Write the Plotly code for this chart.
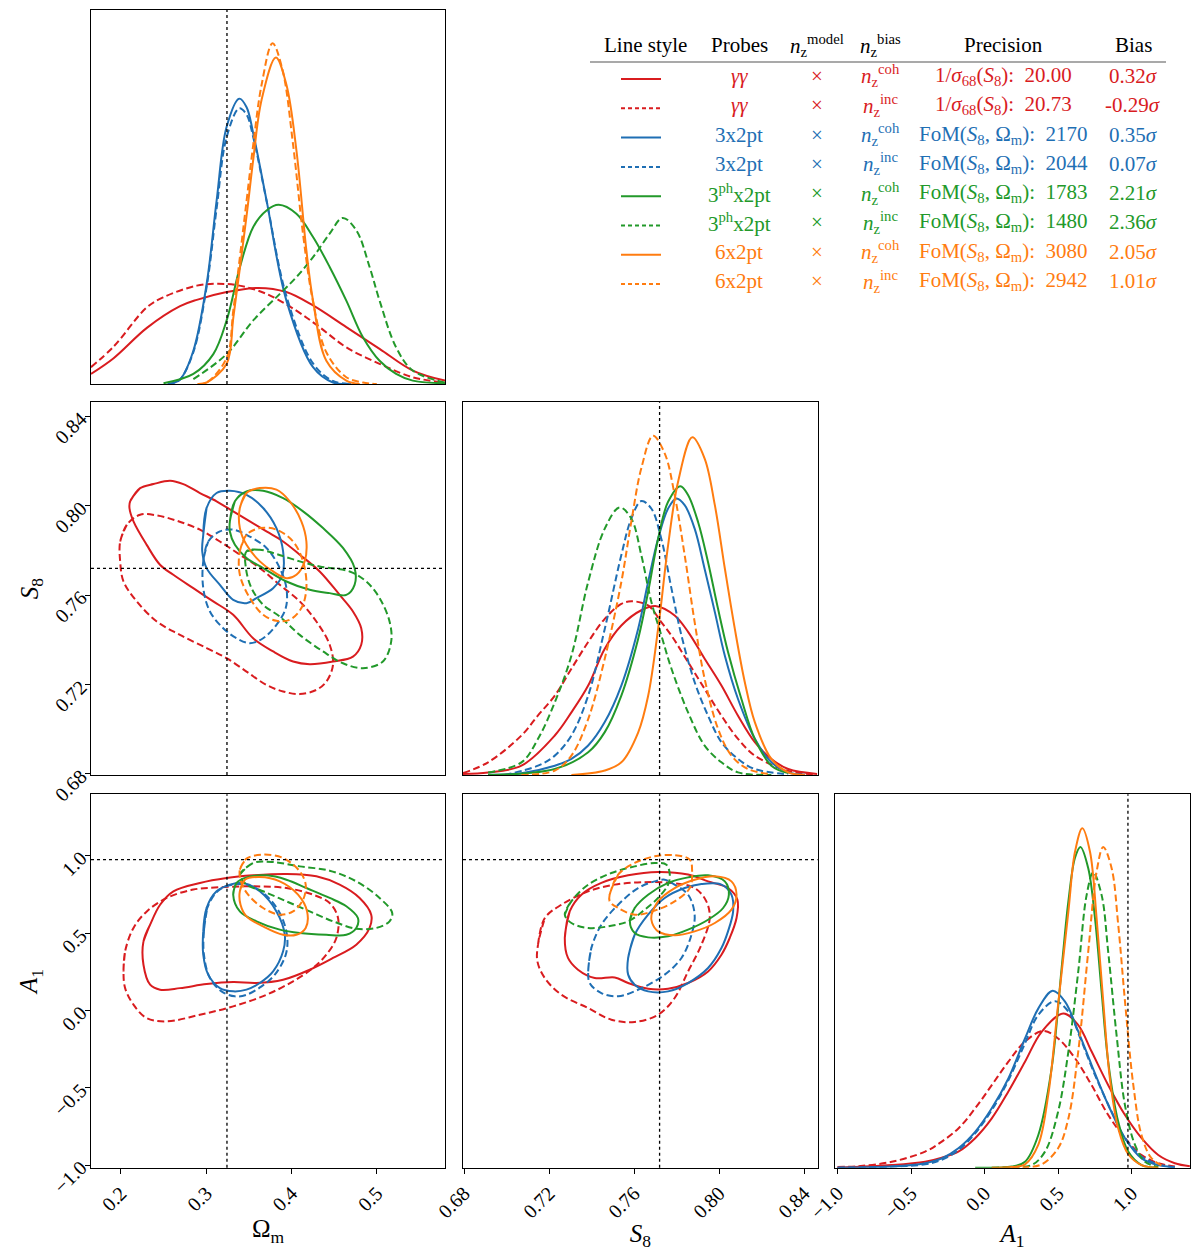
import plotly.graph_objects as go

# ---- true parameter values (dotted lines)
OM_TRUE = 0.3244
S8_TRUE = 0.772
A1_TRUE = 0.975

SERIES = ["gg_coh", "gg_inc", "3x2_coh", "3x2_inc", "3ph_coh", "3ph_inc", "6x2_coh", "6x2_inc"]

# ---- 1D marginal of Omega_m (x, normalised density)
om_pdf = {
    "gg_coh": ([0.165, 0.1915, 0.2305, 0.2694, 0.289, 0.324, 0.361, 0.394, 0.4253, 0.4643, 0.5033, 0.5422, 0.58],
               [0.027, 0.069, 0.150, 0.208, 0.225, 0.246, 0.257, 0.246, 0.210, 0.152, 0.094, 0.036, 0.009]),
    "gg_inc": ([0.165, 0.1915, 0.2305, 0.250, 0.289, 0.314, 0.339, 0.3708, 0.4058, 0.433, 0.4643, 0.5033, 0.5422, 0.58],
               [0.045, 0.100, 0.205, 0.232, 0.263, 0.268, 0.263, 0.241, 0.196, 0.152, 0.098, 0.054, 0.018, 0.004]),
    "3x2_coh": ([0.255, 0.2617, 0.2694, 0.285, 0.3006, 0.3123, 0.324, 0.3388, 0.3474, 0.3552, 0.3708, 0.3941, 0.4253, 0.4487, 0.47],
                [0.0, 0.003, 0.012, 0.089, 0.268, 0.491, 0.688, 0.763, 0.740, 0.670, 0.491, 0.223, 0.045, 0.004, 0.0]),
    "3x2_inc": ([0.255, 0.2617, 0.2694, 0.285, 0.3006, 0.3123, 0.324, 0.3388, 0.3474, 0.3552, 0.3708, 0.3941, 0.4253, 0.4487, 0.47],
                [0.0, 0.003, 0.012, 0.085, 0.260, 0.470, 0.660, 0.737, 0.720, 0.660, 0.490, 0.235, 0.055, 0.008, 0.0]),
    "3ph_coh": ([0.250, 0.285, 0.3084, 0.324, 0.3396, 0.3552, 0.3708, 0.385, 0.4058, 0.4253, 0.4448, 0.4643, 0.4838, 0.5033, 0.5227, 0.5422, 0.58],
                [0.002, 0.027, 0.080, 0.170, 0.313, 0.420, 0.464, 0.479, 0.455, 0.393, 0.313, 0.223, 0.125, 0.062, 0.027, 0.009, 0.002]),
    "3ph_inc": ([0.285, 0.324, 0.3552, 0.3864, 0.4058, 0.4253, 0.4448, 0.460, 0.476, 0.4916, 0.5033, 0.5227, 0.5422, 0.58],
                [0.013, 0.080, 0.170, 0.241, 0.286, 0.339, 0.402, 0.444, 0.411, 0.313, 0.223, 0.098, 0.036, 0.004]),
    "6x2_coh": ([0.29, 0.3006, 0.324, 0.332, 0.3474, 0.3552, 0.365, 0.3817, 0.3941, 0.4058, 0.4175, 0.4253, 0.4409, 0.4643, 0.48],
                [0.0, 0.004, 0.054, 0.180, 0.450, 0.600, 0.760, 0.873, 0.800, 0.625, 0.357, 0.223, 0.062, 0.009, 0.0]),
    "6x2_inc": ([0.29, 0.3006, 0.324, 0.332, 0.3474, 0.3552, 0.365, 0.3778, 0.3895, 0.4019, 0.4136, 0.4253, 0.4409, 0.4643, 0.4838, 0.50],
                [0.0, 0.004, 0.070, 0.200, 0.490, 0.640, 0.800, 0.911, 0.840, 0.640, 0.400, 0.220, 0.085, 0.018, 0.004, 0.0]),
}

# ---- 1D marginal of S8
s8_pdf = {
    "gg_coh": ([0.6795, 0.6913, 0.7070, 0.7227, 0.7305, 0.7384, 0.7462, 0.7540, 0.7634, 0.7705, 0.7791, 0.7854, 0.7932, 0.8011, 0.8089, 0.8168, 0.8246, 0.8325, 0.8461],
               [0.003, 0.007, 0.025, 0.106, 0.168, 0.240, 0.339, 0.401, 0.442, 0.453, 0.428, 0.384, 0.312, 0.240, 0.159, 0.088, 0.043, 0.016, 0.003]),
    "gg_inc": ([0.6795, 0.6913, 0.7070, 0.7148, 0.7227, 0.7305, 0.7384, 0.7462, 0.7540, 0.7587, 0.7666, 0.7728, 0.7776, 0.7854, 0.7932, 0.8011, 0.8089, 0.8168, 0.8325, 0.8461],
               [0.005, 0.034, 0.106, 0.160, 0.213, 0.285, 0.357, 0.419, 0.459, 0.466, 0.455, 0.410, 0.374, 0.303, 0.231, 0.159, 0.097, 0.052, 0.011, 0.002]),
    "3x2_coh": ([0.6913, 0.7070, 0.7227, 0.7305, 0.7384, 0.7462, 0.7540, 0.7619, 0.7666, 0.7713, 0.7760, 0.7799, 0.7838, 0.7885, 0.7932, 0.7980, 0.8027, 0.8089, 0.8168, 0.8246, 0.8325, 0.8403],
                [0.001, 0.005, 0.025, 0.043, 0.079, 0.142, 0.240, 0.392, 0.518, 0.634, 0.715, 0.742, 0.724, 0.661, 0.553, 0.437, 0.320, 0.204, 0.097, 0.034, 0.007, 0.001]),
    "3ph_coh": ([0.6913, 0.7227, 0.7384, 0.7462, 0.7540, 0.7619, 0.7666, 0.7713, 0.7760, 0.7818, 0.7854, 0.7901, 0.7948, 0.7995, 0.8042, 0.8105, 0.8168, 0.8246, 0.8325],
                [0.0, 0.016, 0.061, 0.115, 0.213, 0.365, 0.491, 0.634, 0.733, 0.775, 0.751, 0.679, 0.571, 0.446, 0.330, 0.204, 0.097, 0.025, 0.005]),
    "6x2_coh": ([0.7305, 0.7462, 0.7540, 0.7619, 0.7666, 0.7713, 0.7760, 0.7807, 0.7874, 0.7932, 0.7980, 0.8027, 0.8074, 0.8121, 0.8168, 0.8246, 0.8325, 0.8403],
                [0.0, 0.012, 0.034, 0.114, 0.212, 0.392, 0.616, 0.787, 0.906, 0.849, 0.724, 0.554, 0.392, 0.249, 0.142, 0.043, 0.007, 0.0]),
    "6x2_inc": ([0.7070, 0.7227, 0.7305, 0.7384, 0.7462, 0.7540, 0.7587, 0.7634, 0.7689, 0.7744, 0.7791, 0.7838, 0.7885, 0.7932, 0.7995, 0.8058, 0.8136, 0.8246],
                [0.0, 0.012, 0.052, 0.150, 0.312, 0.518, 0.680, 0.823, 0.910, 0.863, 0.751, 0.590, 0.410, 0.258, 0.124, 0.052, 0.016, 0.002]),
    "3x2_inc": ([0.6990, 0.7148, 0.7227, 0.7305, 0.7384, 0.7462, 0.7540, 0.7587, 0.7634, 0.7681, 0.7728, 0.7776, 0.7823, 0.7885, 0.7948, 0.8011, 0.8089, 0.8168, 0.8325],
                [0.0, 0.025, 0.052, 0.106, 0.213, 0.392, 0.590, 0.688, 0.735, 0.715, 0.634, 0.500, 0.374, 0.249, 0.159, 0.088, 0.043, 0.016, 0.002]),
    "3ph_inc": ([0.6913, 0.7070, 0.7148, 0.7227, 0.7305, 0.7384, 0.7462, 0.7532, 0.7587, 0.7634, 0.7681, 0.7728, 0.7776, 0.7854, 0.7932, 0.8011, 0.8089, 0.8246],
                [0.007, 0.034, 0.097, 0.195, 0.320, 0.518, 0.661, 0.718, 0.688, 0.590, 0.465, 0.375, 0.285, 0.168, 0.079, 0.034, 0.007, 0.0]),
}

# ---- 1D marginal of A1
a1_pdf = {
    "gg_coh": ([-1.0, -0.631, -0.404, -0.291, -0.178, -0.064, 0.049, 0.162, 0.275, 0.388, 0.535, 0.637, 0.728, 0.841, 0.955, 1.068, 1.181, 1.294, 1.396],
               [0.0, 0.007, 0.016, 0.027, 0.043, 0.079, 0.132, 0.204, 0.284, 0.364, 0.413, 0.382, 0.311, 0.221, 0.141, 0.079, 0.034, 0.012, 0.004]),
    "gg_inc": ([-1.0, -0.857, -0.631, -0.404, -0.291, -0.178, -0.064, 0.049, 0.162, 0.275, 0.399, 0.5, 0.615, 0.728, 0.841, 0.955, 1.068, 1.181, 1.294],
               [0.002, 0.004, 0.016, 0.043, 0.070, 0.105, 0.159, 0.221, 0.284, 0.338, 0.366, 0.346, 0.293, 0.221, 0.141, 0.079, 0.034, 0.012, 0.003]),
    "3x2_coh": ([-1.0, -0.631, -0.404, -0.291, -0.178, -0.064, 0.049, 0.162, 0.275, 0.365, 0.463, 0.547, 0.637, 0.728, 0.841, 0.955, 1.068, 1.181, 1.294],
                [0.0, 0.003, 0.012, 0.025, 0.052, 0.096, 0.159, 0.239, 0.346, 0.426, 0.474, 0.445, 0.365, 0.275, 0.168, 0.079, 0.025, 0.007, 0.001]),
    "3x2_inc": ([-1.0, -0.631, -0.404, -0.291, -0.178, -0.064, 0.049, 0.162, 0.275, 0.365, 0.479, 0.570, 0.660, 0.751, 0.864, 0.955, 1.068, 1.181, 1.294],
                [0.0, 0.003, 0.009, 0.021, 0.047, 0.092, 0.154, 0.234, 0.333, 0.409, 0.446, 0.418, 0.338, 0.248, 0.150, 0.079, 0.030, 0.009, 0.001]),
    "3ph_coh": ([-0.064, 0.185, 0.275, 0.365, 0.456, 0.524, 0.570, 0.615, 0.652, 0.705, 0.751, 0.796, 0.841, 0.909, 0.977, 1.068, 1.181],
                [0.0, 0.003, 0.016, 0.087, 0.266, 0.534, 0.713, 0.830, 0.859, 0.802, 0.668, 0.471, 0.283, 0.123, 0.043, 0.007, 0.0]),
    "3ph_inc": ([0.049, 0.185, 0.320, 0.411, 0.500, 0.570, 0.637, 0.694, 0.739, 0.796, 0.841, 0.898, 0.955, 1.023, 1.091, 1.181],
                [0.0, 0.002, 0.007, 0.043, 0.150, 0.311, 0.525, 0.730, 0.791, 0.730, 0.577, 0.354, 0.167, 0.061, 0.016, 0.002]),
    "6x2_coh": ([0.049, 0.185, 0.275, 0.365, 0.433, 0.5, 0.570, 0.615, 0.665, 0.717, 0.762, 0.807, 0.852, 0.909, 0.977, 1.068, 1.181],
                [0.0, 0.002, 0.009, 0.061, 0.195, 0.436, 0.686, 0.846, 0.909, 0.846, 0.668, 0.445, 0.240, 0.105, 0.036, 0.007, 0.0]),
    "6x2_inc": ([0.185, 0.275, 0.388, 0.5, 0.570, 0.637, 0.705, 0.762, 0.807, 0.864, 0.909, 0.955, 1.012, 1.068, 1.136, 1.226],
                [0.0, 0.001, 0.009, 0.052, 0.132, 0.311, 0.579, 0.793, 0.859, 0.802, 0.650, 0.445, 0.220, 0.086, 0.025, 0.002]),
}

# ---- 2D contours: S8 vs Omega_m  (Omega_m list, S8 list)
om_s8 = {
    "gg_coh": ([0.2109, 0.2226, 0.2382, 0.2577, 0.2732, 0.2927, 0.3122, 0.3317, 0.3512, 0.3707, 0.3902, 0.4097, 0.4331, 0.4565, 0.4721, 0.4818, 0.4818, 0.4721, 0.4487, 0.4214, 0.4019, 0.3785, 0.3551, 0.3317, 0.3083, 0.2849, 0.2615, 0.2459, 0.2303, 0.2148, 0.2101],
               [0.8020, 0.8079, 0.8097, 0.8112, 0.8097, 0.8057, 0.8020, 0.7975, 0.7930, 0.7885, 0.7840, 0.7781, 0.7706, 0.7601, 0.7527, 0.7452, 0.7378, 0.7325, 0.7303, 0.7291, 0.7303, 0.7348, 0.7407, 0.7512, 0.7572, 0.7631, 0.7691, 0.7736, 0.7825, 0.7930, 0.7990]),
    "gg_inc": ([0.1992, 0.2070, 0.2226, 0.2421, 0.2655, 0.2927, 0.3161, 0.3395, 0.3629, 0.3863, 0.4097, 0.4292, 0.4448, 0.4487, 0.4409, 0.4292, 0.4097, 0.3902, 0.3707, 0.3473, 0.3239, 0.3005, 0.2693, 0.2421, 0.2187, 0.2031, 0.1992],
               [0.7840, 0.7915, 0.7960, 0.7957, 0.7933, 0.7893, 0.7840, 0.7781, 0.7721, 0.7646, 0.7572, 0.7482, 0.7378, 0.7288, 0.7213, 0.7176, 0.7157, 0.7169, 0.7198, 0.7258, 0.7318, 0.7363, 0.7422, 0.7482, 0.7572, 0.7661, 0.7751]),
    "3x2_coh": ([0.2966, 0.3005, 0.3122, 0.3278, 0.3473, 0.3668, 0.3824, 0.3902, 0.3894, 0.3785, 0.3590, 0.3473, 0.3317, 0.3161, 0.3005, 0.2954],
                [0.7870, 0.7990, 0.8057, 0.8067, 0.8049, 0.7990, 0.7900, 0.7796, 0.7691, 0.7631, 0.7587, 0.7564, 0.7579, 0.7646, 0.7721, 0.7796]),
    "3x2_inc": ([0.2966, 0.3024, 0.3161, 0.3317, 0.3473, 0.3707, 0.3863, 0.3941, 0.3933, 0.3824, 0.3668, 0.3512, 0.3356, 0.3200, 0.3044, 0.2966],
                [0.7751, 0.7840, 0.7885, 0.7893, 0.7870, 0.7811, 0.7721, 0.7631, 0.7542, 0.7467, 0.7407, 0.7385, 0.7407, 0.7452, 0.7527, 0.7631]),
    "3ph_coh": ([0.3278, 0.3337, 0.3473, 0.3668, 0.3902, 0.4136, 0.4370, 0.4604, 0.4740, 0.4740, 0.4643, 0.4448, 0.4214, 0.3941, 0.3668, 0.3473, 0.3337, 0.3278],
                [0.7930, 0.8020, 0.8064, 0.8067, 0.8034, 0.7975, 0.7900, 0.7811, 0.7721, 0.7646, 0.7601, 0.7609, 0.7624, 0.7661, 0.7721, 0.7766, 0.7825, 0.7885]),
    "3ph_inc": ([0.3473, 0.3629, 0.3824, 0.4097, 0.4331, 0.4682, 0.4877, 0.5033, 0.5150, 0.5169, 0.5072, 0.4838, 0.4604, 0.4370, 0.4097, 0.3863, 0.3668, 0.3532, 0.3466],
                [0.7796, 0.7803, 0.7784, 0.7751, 0.7728, 0.7706, 0.7661, 0.7587, 0.7482, 0.7392, 0.7303, 0.7273, 0.7295, 0.7348, 0.7422, 0.7504, 0.7557, 0.7631, 0.7721]),
    "6x2_coh": ([0.3395, 0.3473, 0.3629, 0.3824, 0.3980, 0.4116, 0.4175, 0.4155, 0.4058, 0.3941, 0.3785, 0.3629, 0.3473, 0.3395],
                [0.7990, 0.8057, 0.8079, 0.8072, 0.8020, 0.7930, 0.7840, 0.7751, 0.7691, 0.7676, 0.7706, 0.7751, 0.7825, 0.7900]),
    "6x2_inc": ([0.3395, 0.3473, 0.3629, 0.3824, 0.4019, 0.4136, 0.4175, 0.4116, 0.3980, 0.3824, 0.3668, 0.3512, 0.3395],
                [0.7796, 0.7870, 0.7900, 0.7893, 0.7840, 0.7751, 0.7631, 0.7542, 0.7490, 0.7485, 0.7512, 0.7587, 0.7691]),
}

# ---- 2D contours: A1 vs Omega_m
om_a1 = {
    "gg_coh": ([0.2265, 0.2343, 0.2460, 0.2616, 0.2927, 0.3239, 0.3551, 0.3941, 0.4292, 0.4565, 0.4799, 0.4935, 0.4916, 0.4760, 0.4487, 0.4214, 0.3902, 0.3590, 0.3317, 0.3005, 0.2693, 0.2460, 0.2343, 0.2265],
               [0.446, 0.554, 0.683, 0.770, 0.824, 0.856, 0.873, 0.882, 0.867, 0.813, 0.727, 0.619, 0.533, 0.425, 0.339, 0.263, 0.198, 0.177, 0.183, 0.170, 0.144, 0.134, 0.166, 0.295]),
    "gg_inc": ([0.2031, 0.2050, 0.2148, 0.2304, 0.2538, 0.2849, 0.3161, 0.3551, 0.3941, 0.4253, 0.4448, 0.4546, 0.4526, 0.4409, 0.4253, 0.4019, 0.3707, 0.3317, 0.2927, 0.2538, 0.2304, 0.2148, 0.2050],
               [0.252, 0.382, 0.533, 0.640, 0.727, 0.781, 0.796, 0.802, 0.791, 0.748, 0.694, 0.597, 0.468, 0.360, 0.274, 0.188, 0.101, 0.026, -0.028, -0.071, -0.050, 0.037, 0.144]),
    "3x2_coh": ([0.2966, 0.3005, 0.3122, 0.3278, 0.3434, 0.3629, 0.3824, 0.3922, 0.3902, 0.3785, 0.3629, 0.3473, 0.3317, 0.3161, 0.3024, 0.2966],
                [0.511, 0.662, 0.770, 0.813, 0.824, 0.770, 0.640, 0.489, 0.382, 0.252, 0.177, 0.134, 0.123, 0.144, 0.231, 0.360]),
    "3x2_inc": ([0.2974, 0.3013, 0.3141, 0.3317, 0.3473, 0.3668, 0.3863, 0.3949, 0.3933, 0.3805, 0.3649, 0.3473, 0.3336, 0.3180, 0.3044, 0.2974],
                [0.511, 0.662, 0.774, 0.813, 0.813, 0.760, 0.630, 0.479, 0.360, 0.231, 0.155, 0.101, 0.091, 0.123, 0.209, 0.360]),
    "3ph_coh": ([0.3317, 0.3356, 0.3473, 0.3707, 0.3941, 0.4175, 0.4448, 0.4643, 0.4779, 0.4760, 0.4643, 0.4409, 0.4097, 0.3863, 0.3590, 0.3395],
                [0.748, 0.824, 0.860, 0.873, 0.845, 0.791, 0.727, 0.673, 0.597, 0.533, 0.489, 0.489, 0.500, 0.522, 0.576, 0.640]),
    "3ph_inc": ([0.3395, 0.3551, 0.3785, 0.4097, 0.4448, 0.4760, 0.5033, 0.5181, 0.5150, 0.4994, 0.4760, 0.4487, 0.4214, 0.3941, 0.3668, 0.3473],
                [0.878, 0.953, 0.959, 0.931, 0.903, 0.834, 0.727, 0.630, 0.576, 0.533, 0.528, 0.576, 0.640, 0.705, 0.770, 0.813]),
    "6x2_coh": ([0.3395, 0.3454, 0.3629, 0.3863, 0.4077, 0.4183, 0.4167, 0.4058, 0.3902, 0.3668, 0.3473, 0.3403],
                [0.770, 0.845, 0.862, 0.834, 0.748, 0.640, 0.533, 0.489, 0.489, 0.543, 0.608, 0.683]),
    "6x2_inc": ([0.3395, 0.3473, 0.3668, 0.3902, 0.4097, 0.4167, 0.4136, 0.4019, 0.3863, 0.3668, 0.3492, 0.3414],
                [0.910, 0.981, 1.007, 0.985, 0.899, 0.813, 0.716, 0.640, 0.619, 0.662, 0.748, 0.824]),
}

# ---- 2D contours: A1 vs S8
s8_a1 = {
    "gg_coh": ([0.7274, 0.7297, 0.7352, 0.7446, 0.7572, 0.7713, 0.7854, 0.7948, 0.8042, 0.8086, 0.8082, 0.8050, 0.8011, 0.7948, 0.7854, 0.7760, 0.7666, 0.7572, 0.7509, 0.7415, 0.7336, 0.7289],
               [0.468, 0.640, 0.748, 0.824, 0.873, 0.895, 0.878, 0.834, 0.791, 0.716, 0.597, 0.468, 0.360, 0.252, 0.177, 0.140, 0.140, 0.177, 0.213, 0.209, 0.263, 0.339]),
    "gg_inc": ([0.7148, 0.7180, 0.7258, 0.7384, 0.7509, 0.7635, 0.7776, 0.7885, 0.7940, 0.7956, 0.7917, 0.7854, 0.7791, 0.7713, 0.7603, 0.7493, 0.7384, 0.7258, 0.7180, 0.7145],
               [0.425, 0.597, 0.683, 0.770, 0.813, 0.828, 0.824, 0.791, 0.705, 0.597, 0.425, 0.252, 0.080, -0.028, -0.075, -0.060, 0.015, 0.101, 0.209, 0.317]),
    "3x2_coh": ([0.7572, 0.7603, 0.7666, 0.7744, 0.7838, 0.7917, 0.8011, 0.8058, 0.8066, 0.8042, 0.8011, 0.7948, 0.7854, 0.7760, 0.7666, 0.7603, 0.7572],
                [0.339, 0.489, 0.619, 0.727, 0.791, 0.817, 0.813, 0.748, 0.640, 0.511, 0.403, 0.274, 0.177, 0.123, 0.123, 0.166, 0.231]),
    "3x2_inc": ([0.7384, 0.7399, 0.7446, 0.7525, 0.7619, 0.7697, 0.7744, 0.7776, 0.7854, 0.7885, 0.7870, 0.7823, 0.7744, 0.7635, 0.7525, 0.7446, 0.7391],
                [0.252, 0.403, 0.554, 0.683, 0.791, 0.834, 0.845, 0.824, 0.748, 0.619, 0.489, 0.339, 0.231, 0.144, 0.091, 0.112, 0.177]),
    "3ph_coh": ([0.7580, 0.7603, 0.7666, 0.7760, 0.7854, 0.7948, 0.8027, 0.8046, 0.8019, 0.7948, 0.7854, 0.7760, 0.7666, 0.7603],
                [0.576, 0.662, 0.748, 0.824, 0.860, 0.873, 0.834, 0.748, 0.662, 0.586, 0.522, 0.479, 0.472, 0.500]),
    "3ph_inc": ([0.7274, 0.7305, 0.7384, 0.7493, 0.7603, 0.7697, 0.7752, 0.7768, 0.7760, 0.7713, 0.7650, 0.7572, 0.7478, 0.7384, 0.7305],
                [0.619, 0.705, 0.813, 0.888, 0.931, 0.953, 0.942, 0.878, 0.813, 0.727, 0.651, 0.576, 0.543, 0.533, 0.565]),
    "6x2_coh": ([0.7682, 0.7713, 0.7791, 0.7885, 0.7980, 0.8058, 0.8082, 0.8058, 0.7980, 0.7885, 0.7791, 0.7713, 0.7685],
                [0.619, 0.705, 0.791, 0.845, 0.867, 0.834, 0.748, 0.651, 0.565, 0.511, 0.485, 0.511, 0.565]),
    "6x2_inc": ([0.7485, 0.7525, 0.7603, 0.7697, 0.7791, 0.7862, 0.7873, 0.7862, 0.7791, 0.7697, 0.7603, 0.7525, 0.7485],
                [0.748, 0.878, 0.953, 0.996, 1.003, 0.975, 0.899, 0.791, 0.705, 0.645, 0.619, 0.662, 0.705]),
}

# ---- legend table
probes = ["<i>γγ</i>", "<i>γγ</i>", "3x2pt", "3x2pt", "3<sup>ph</sup>x2pt", "3<sup>ph</sup>x2pt", "6x2pt", "6x2pt"]
nz_bias = ["coh", "inc", "coh", "inc", "coh", "inc", "coh", "inc"]
prec_label = ["1/<i>σ</i><sub>68</sub>(<i>S</i><sub>8</sub>):", "1/<i>σ</i><sub>68</sub>(<i>S</i><sub>8</sub>):"] + \
             ["FoM(<i>S</i><sub>8</sub>, Ω<sub>m</sub>):"] * 6
prec_value = ["20.00", "20.73", "2170", "2044", "1783", "1480", "3080", "2942"]
bias = ["0.32", "-0.29", "0.35", "0.07", "2.21", "2.36", "2.05", "1.01"]

RED, BLUE, GREEN, ORANGE = "#d91c1f", "#1f6fb4", "#22992a", "#ff7c10"
colors = [RED, RED, BLUE, BLUE, GREEN, GREEN, ORANGE, ORANGE]
DASH = "7px,3.5px"
FONT = "Liberation Serif"

OM_RANGE = [0.165, 0.58]
S8_RANGE = [0.6795, 0.8463]
A1_RANGE = [-1.017, 1.397]

fig = go.Figure()


def add_curves(data, ax, closed=False):
    for i, key in enumerate(SERIES):
        if key not in data:
            continue
        xs, ys = list(data[key][0]), list(data[key][1])
        if closed:
            xs = xs + xs[:2]
            ys = ys + ys[:2]
        fig.add_trace(go.Scatter(
            x=xs, y=ys, mode="lines",
            line=dict(color=colors[i], width=2, shape="spline", smoothing=1.0,
                      dash="solid" if key.endswith("coh") else DASH),
            xaxis="x" + ax, yaxis="y" + ax, showlegend=False, hoverinfo="skip"))


add_curves(om_pdf, "")
add_curves(om_s8, "2", closed=True)
add_curves(s8_pdf, "3")
add_curves(om_a1, "4", closed=True)
add_curves(s8_a1, "5", closed=True)
add_curves(a1_pdf, "6")

# dotted truth lines
dot = dict(color="black", width=1.3, dash="dot")
vlines = [("x", "y", OM_TRUE), ("x2", "y2", OM_TRUE), ("x4", "y4", OM_TRUE),
          ("x3", "y3", S8_TRUE), ("x5", "y5", S8_TRUE), ("x6", "y6", A1_TRUE)]
for xr, yr, v in vlines:
    fig.add_shape(type="line", xref=xr, yref=yr + " domain", x0=v, x1=v, y0=0, y1=1, line=dot)
hlines = [("x2", "y2", S8_TRUE), ("x4", "y4", A1_TRUE), ("x5", "y5", A1_TRUE)]
for xr, yr, v in hlines:
    fig.add_shape(type="line", xref=xr + " domain", yref=yr, x0=0, x1=1, y0=v, y1=v, line=dot)

# page body adds an 8px offset; the figure is sized to fit inside the window
OFF = 8
W, H = 1184, 1243


def px(x):
    return (x - OFF) / W


def py(y):
    return 1 - (y - OFF) / H


xd = [[px(91), px(445)], [px(463), px(817.5)], [px(835), px(1190)]]
yd = [[py(384), py(10)], [py(775), py(402.3)], [py(1167.7), py(794.3)]]

tickfont = dict(family=FONT, size=20, color="black")
titlefont = dict(family=FONT, size=25, color="black")


def axis(domain, rng, anchor, labels=False, tickvals=None, fmt=None, title=None):
    d = dict(domain=domain, range=rng, anchor=anchor, showline=True, mirror=True,
             linecolor="black", linewidth=1.2, showgrid=False, zeroline=False,
             automargin=False,
             ticks="outside" if labels else "", ticklen=5, tickcolor="black",
             showticklabels=labels, tickfont=tickfont)
    if labels:
        d.update(tickvals=tickvals, tickformat=fmt, tickangle=-45)
    if title:
        d.update(title=dict(text=title, font=titlefont, standoff=4))
    return d


om_ticks = [0.2, 0.3, 0.4, 0.5]
s8_ticks = [0.68, 0.72, 0.76, 0.80, 0.84]
a1_ticks = [-1.0, -0.5, 0.0, 0.5, 1.0]

fig.update_layout(
    xaxis=axis(xd[0], OM_RANGE, "y"),
    yaxis=axis(yd[0], [0, 1], "x"),
    xaxis2=axis(xd[0], OM_RANGE, "y2"),
    yaxis2=axis(yd[1], S8_RANGE, "x2", True, s8_ticks, ".2f", "<i>S</i><sub>8</sub>"),
    xaxis3=axis(xd[1], S8_RANGE, "y3"),
    yaxis3=axis(yd[1], [0, 1], "x3"),
    xaxis4=axis(xd[0], OM_RANGE, "y4", True, om_ticks, ".1f", "Ω<sub>m</sub>"),
    yaxis4=axis(yd[2], A1_RANGE, "x4", True, a1_ticks, ".1f", "<i>A</i><sub>1</sub>"),
    xaxis5=axis(xd[1], S8_RANGE, "y5", True, s8_ticks, ".2f", "<i>S</i><sub>8</sub>"),
    yaxis5=axis(yd[2], A1_RANGE, "x5"),
    xaxis6=axis(xd[2], A1_RANGE, "y6", True, a1_ticks, ".1f", "<i>A</i><sub>1</sub>"),
    yaxis6=axis(yd[2], [0, 1], "x6"),
)

# ---- legend table (annotations + sample lines)
legfont = dict(family=FONT, size=21)
col_x = {"style": 645, "probe": 739, "model": 817, "bias": 881, "prec": 1003, "sig": 1133}
headers = [("style", "Line style"), ("probe", "Probes"),
           ("model", "<i>n</i><sub>z</sub><sup>model</sup>"),
           ("bias", "<i>n</i><sub>z</sub><sup>bias</sup>"),
           ("prec", "Precision"), ("sig", "Bias")]
for key, txt in headers:
    fig.add_annotation(x=px(col_x[key]), y=py(45), xref="paper", yref="paper", text=txt,
                       showarrow=False, font=dict(legfont, color="black"), xanchor="center", yanchor="middle")
fig.add_shape(type="line", xref="paper", yref="paper", x0=px(590), x1=px(1166), y0=py(62), y1=py(62),
              line=dict(color="#555555", width=1.2))

for i in range(len(SERIES)):
    y = 76 + i * 29.3
    c = colors[i]
    f = dict(legfont, color=c)
    fig.add_shape(type="line", xref="paper", yref="paper", x0=px(621), x1=px(661), y0=py(y + 3), y1=py(y + 3),
                  line=dict(color=c, width=2, dash="solid" if i % 2 == 0 else "4px,3px"))
    row = [("probe", probes[i]), ("model", "×"),
           ("bias", "<i>n</i><sub>z</sub><sup>" + nz_bias[i] + "</sup>"),
           ("prec", prec_label[i] + "  " + prec_value[i]),
           ("sig", bias[i] + "<i>σ</i>")]
    for key, txt in row:
        fig.add_annotation(x=px(col_x[key]), y=py(y), xref="paper", yref="paper", text=txt,
                           showarrow=False, font=f, xanchor="center", yanchor="middle")

fig.update_layout(width=W, height=H, margin=dict(l=0, r=0, t=0, b=0, autoexpand=False),
                  paper_bgcolor="white", plot_bgcolor="white",
                  font=dict(family=FONT, color="black"), showlegend=False)

fig.write_html("out.html")
